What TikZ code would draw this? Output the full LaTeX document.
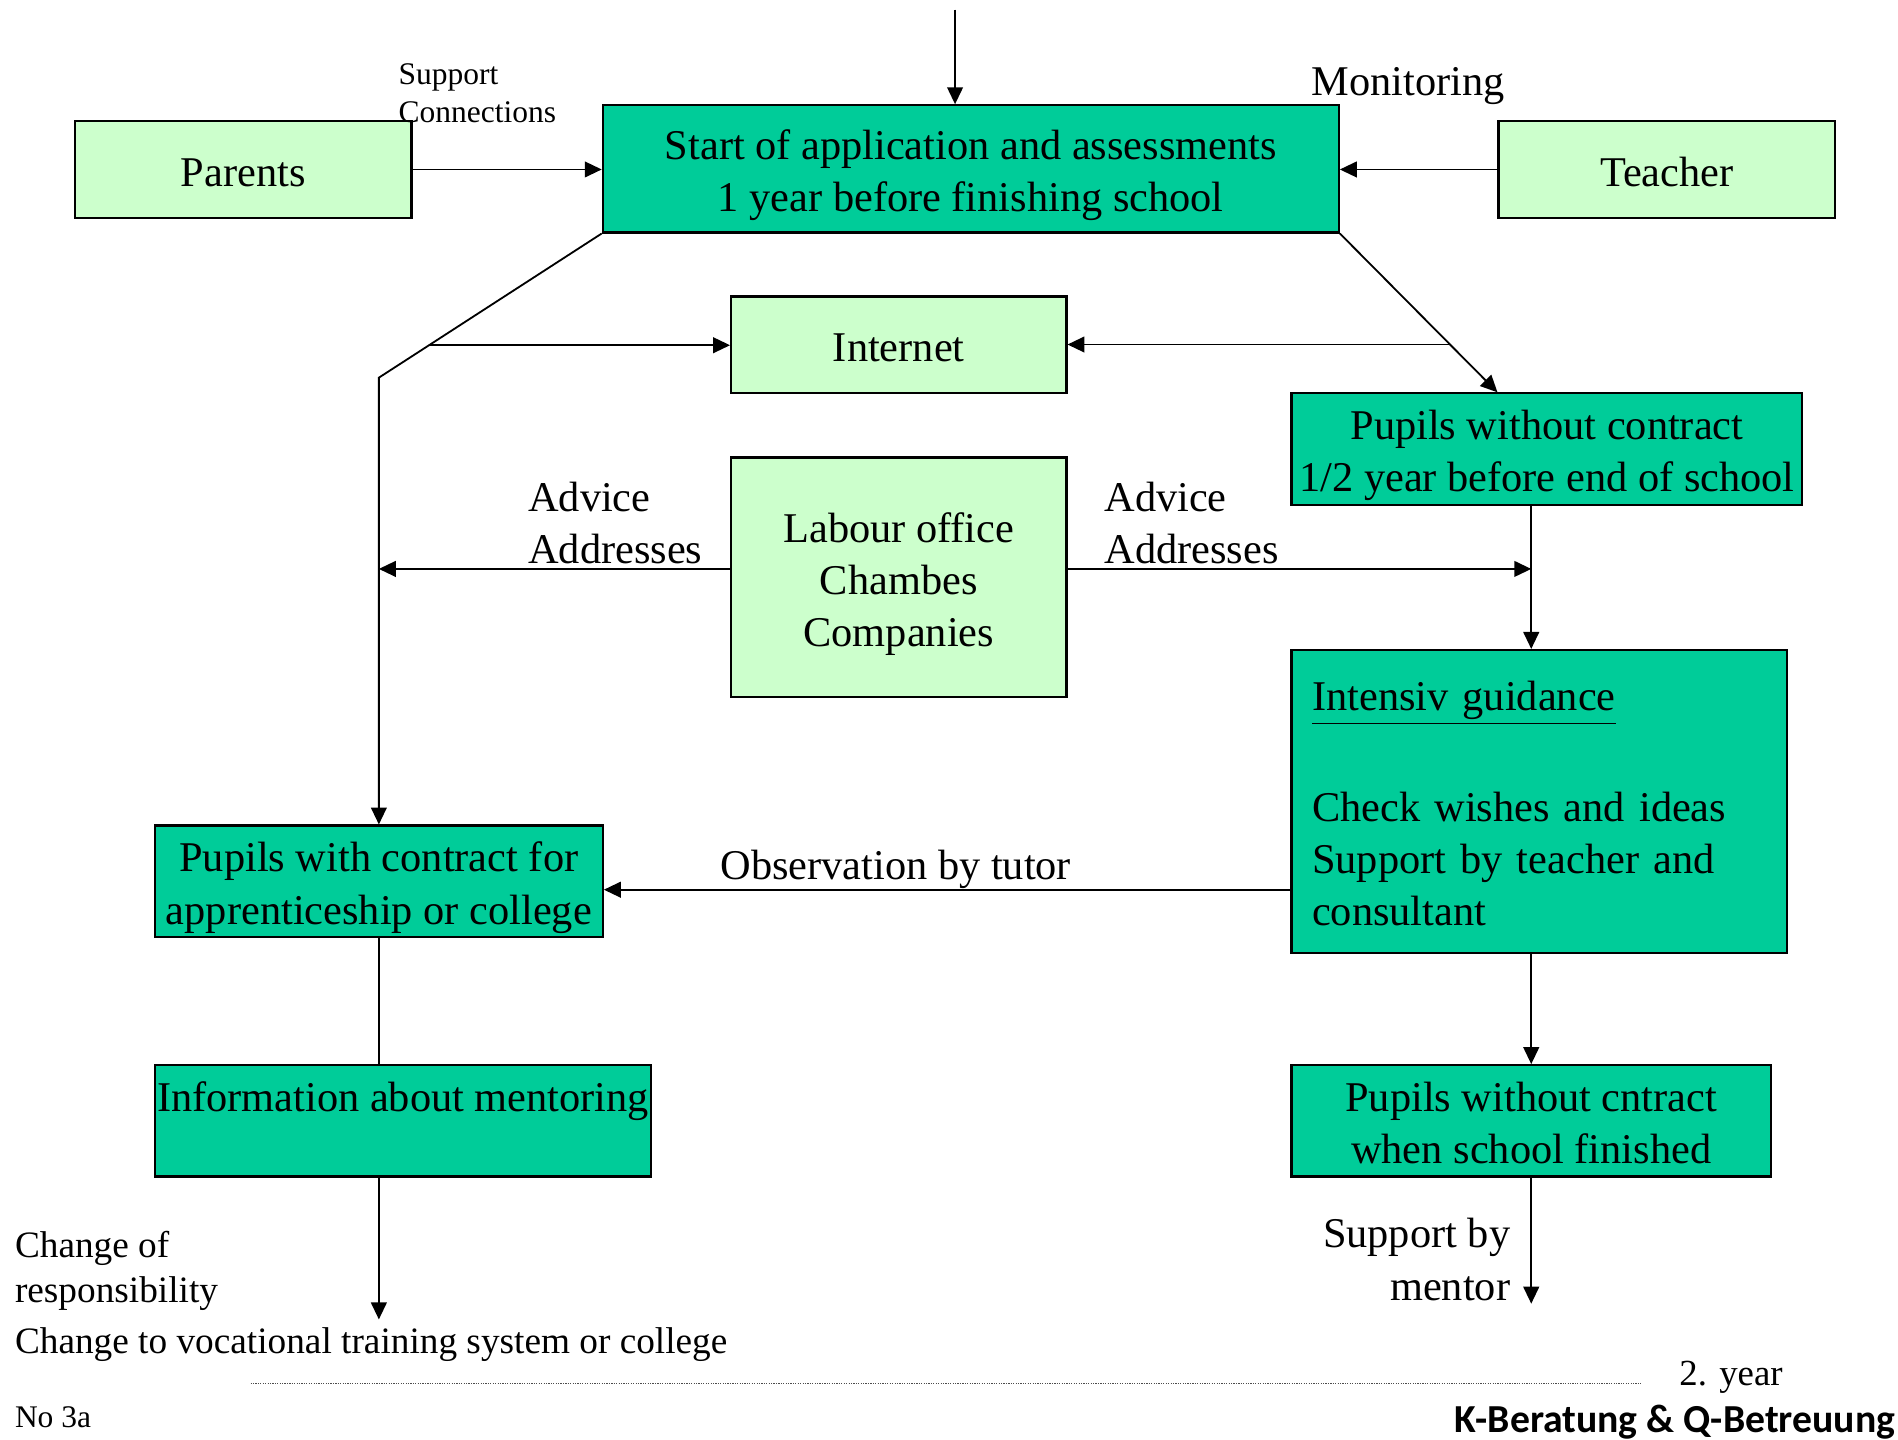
\documentclass[tikz,border=0pt]{standalone}
\usepackage{fontspec}
\setmainfont{Liberation Serif}
\newfontfamily\logofont{Carlito}
\usetikzlibrary{arrows.meta,calc}
\definecolor{tealbox}{HTML}{00CC99}
\definecolor{litebox}{HTML}{CCFFCC}
\newcommand\szA{\fontsize{17.5pt}{21.5pt}\selectfont}
\newcommand\szS{\fontsize{13pt}{15.5pt}\selectfont}
\newcommand\szM{\fontsize{15.4pt}{18.5pt}\selectfont}
\newcommand\szY{\fontsize{15.2pt}{18pt}\selectfont}
\newcommand\szL{\fontsize{16.4pt}{19pt}\selectfont}
\newcommand\sts{\vrule width 0pt height 0.82\baselineskip depth 0.17\baselineskip\relax}
\tikzset{
  box/.style={draw=black, line width=0.9pt, inner sep=0pt, align=center, font=\szA},
  darkbox/.style={box, fill=tealbox},
  lightbox/.style={box, fill=litebox},
  conn/.style={line width=0.75pt},
  arr/.style={conn, -{Triangle[length=7pt,width=6.5pt]}},
  lbl/.style={inner sep=0pt, font=\szA},
}
\begin{document}
\begin{tikzpicture}[x=0.5pt,y=-0.5pt]
\useasboundingbox (0,0) rectangle (1568,1189);
% boxes
\node[darkbox, minimum width=304pt, minimum height=52.5pt] (start) at (802,139.5)
  {Start of application and assessments\sts\\1 year before finishing school\sts};
\node[lightbox, minimum width=139pt, minimum height=40pt] (parents) at (201,140) {Parents\sts};
\node[lightbox, minimum width=139pt, minimum height=40pt] (teacher) at (1377,140) {Teacher\sts};
\node[lightbox, minimum width=138.5pt, minimum height=40pt] (internet) at (742.5,285) {Internet\sts};
\node[darkbox, minimum width=211pt, minimum height=46pt] (pwo) at (1278,371)
  {Pupils without contract\sts\\1/2 year before end of school\sts};
\node[lightbox, minimum width=138.5pt, minimum height=99pt] (labour) at (742.5,477)
  {Labour office\sts\\Chambes\sts\\Companies\sts};
\node[darkbox, minimum width=204.5pt, minimum height=125pt, text width=187.5pt, inner xsep=8.5pt, align=left] (intensiv) at (1271.5,662)
  {\underline{Intensiv guidance}\sts\\\sts\\Check wishes and ideas\sts\\Support by teacher and\sts\\consultant\sts};
\node[darkbox, minimum width=185pt, minimum height=46pt] (pwith) at (313,728)
  {Pupils with contract for\sts\\apprenticeship or college\sts};
\node[darkbox, minimum width=205pt, minimum height=46pt] (info) at (333,926)
  {Information about mentoring\sts\\\sts};
\node[darkbox, minimum width=198pt, minimum height=46pt] (pwc) at (1265,926)
  {Pupils without cntract\sts\\when school finished\sts};
% labels
\node[lbl, font=\szS, anchor=west, align=left] (suplbl) at (329,75.5) {Support\sts\\Connections\sts};
\node[lbl, anchor=west] (monlbl) at (1083,65) {Monitoring\sts};
\node[lbl, anchor=west, align=left] (advl) at (436,430) {Advice\sts\\Addresses\sts};
\node[lbl, anchor=west, align=left] (advr) at (912,430) {Advice\sts\\Addresses\sts};
\node[lbl] (obslbl) at (740,713) {Observation by tutor\sts};
\node[lbl, font=\szM, anchor=west, align=left] (chresp) at (12,1045.5) {Change of\sts\\responsibility\sts};
\node[lbl, font=\szM, anchor=west] (chvoc) at (12,1106) {Change to vocational training system or college\sts};
\node[lbl, anchor=east, align=right] (suplbl2) at (1248,1038.5) {Support by\sts\\mentor\sts};
\node[lbl, font=\szY, anchor=west] (yearlbl) at (1387,1133) {2. year\sts};
\node[lbl, font=\szS, anchor=west] (nolbl) at (12,1169) {No 3a\sts};
\node[lbl, font=\szL\logofont\bfseries, anchor=east] (logo) at (1566,1171) {K-Beratung \& Q-Betreuung\sts};
% coordinates
\coordinate (topin) at (789,8);
\coordinate (lk) at (313,312);
\coordinate (d1) at ($(start.south west)!0.775!(lk)$);
\coordinate (pwotop) at ($(pwo.north west)+(171,0)$);
\coordinate (d2) at ($(start.south east)!0.699!(pwotop)$);
\coordinate (la) at ($(labour.west)+(0,-7)$);
\coordinate (ra) at ($(labour.east)+(0,-7)$);
\coordinate (ob) at ($(pwith.east)+(0,7)$);
\coordinate (endL) at (313,1090);
\coordinate (endR) at (1265,1077);
% connectors
\draw[arr] (topin) -- (topin |- start.north);
\draw[arr] (parents.east) -- (parents.east -| start.west);
\draw[arr] (teacher.west) -- (teacher.west -| start.east);
\draw[arr] (start.south west) -- (lk) -- (pwith.north);
\draw[arr] (d1) -- (d1 -| internet.west);
\draw[arr] (start.south east) -- (pwotop);
\draw[arr] (d2) -- (d2 -| internet.east);
\draw[arr] (la) -- (la -| lk);
\draw[arr] (ra) -- (ra -| pwc.north);
\draw[arr] (pwc.north |- pwo.south) -- (pwc.north |- intensiv.north);
\draw[arr] (ob -| intensiv.west) -- (ob);
\draw[conn] (pwith.south) -- (pwith.south |- info.north);
\draw[arr] (pwith.south |- info.south) -- (endL);
\draw[arr] (pwc.north |- intensiv.south) -- (pwc.north);
\draw[arr] (pwc.south) -- (endR);
% footer rule
\draw[line width=0.5pt, black!70, dash pattern=on 0.5pt off 0.5pt] (207,1143) -- (1357,1143);
\end{tikzpicture}
\end{document}
